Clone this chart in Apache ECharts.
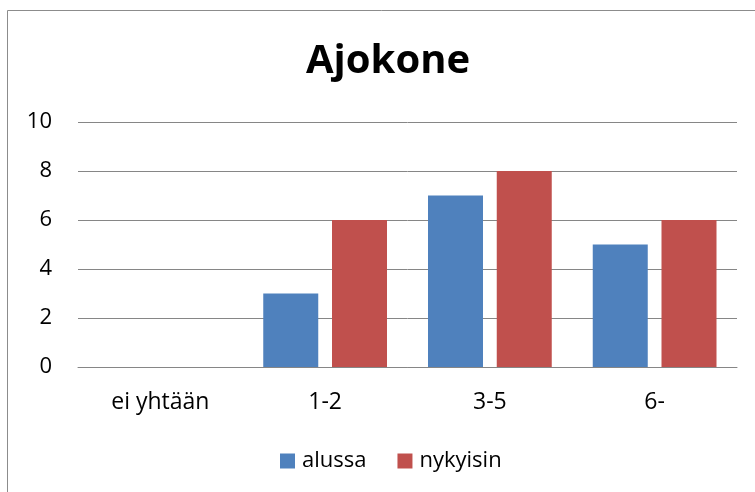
<!DOCTYPE html>
<html>
<head>
<meta charset="utf-8">
<script src="https://cdn.jsdelivr.net/npm/echarts@6/dist/echarts.min.js"></script>
<style>
html,body{margin:0;padding:0;background:#fff;}
#chart{width:755px;height:492px;}
</style>
</head>
<body>
<div id="chart"></div>
<script>
var categories = ["ei yhtään", "1-2", "3-5", "6-"];
var alussa = [0, 3, 7, 5];
var nykyisin = [0, 6, 8, 6];
var yTicks = [0, 2, 4, 6, 8, 10];

var chart = echarts.init(document.getElementById('chart'), null, {renderer: 'canvas'});
var font = '"Open Sans", "Noto Sans", sans-serif';
chart.setOption({
  animation: false,
  backgroundColor: '#ffffff',
  graphic: [{
    type: 'rect',
    shape: {x: 7.5, y: 10.5, width: 800, height: 600},
    style: {fill: 'none', stroke: '#8c8c8c', lineWidth: 1},
    silent: true
  }],
  title: {
    text: 'Ajokone',
    left: 301,
    top: 37,
    textStyle: {fontFamily: font, fontSize: 40, fontWeight: 'bold', color: '#000'}
  },
  legend: {
    top: 445,
    left: 275,
    itemWidth: 15,
    itemHeight: 15,
    itemGap: 31,
    icon: 'rect',
    textStyle: {fontFamily: font, fontSize: 22, color: '#000', padding: [0, 0, 0, 2]},
    data: ['alussa', 'nykyisin']
  },
  grid: {left: 78, right: 18, top: 122, bottom: 125, containLabel: false},
  xAxis: {
    type: 'category',
    data: categories,
    axisLine: {show: true, lineStyle: {color: '#868686', width: 1}},
    axisTick: {show: false},
    axisLabel: {fontFamily: font, fontSize: 23, color: '#000', margin: 24}
  },
  yAxis: {
    type: 'value',
    min: yTicks[0],
    max: yTicks[yTicks.length - 1],
    interval: 2,
    axisLine: {show: false},
    axisTick: {show: false},
    axisLabel: {fontFamily: font, fontSize: 22, color: '#000', margin: 26},
    splitLine: {lineStyle: {color: '#868686', width: 1}}
  },
  series: [
    {name: 'alussa', type: 'bar', data: alussa, barWidth: 55, barGap: '25%', itemStyle: {color: '#4F81BD'}},
    {name: 'nykyisin', type: 'bar', data: nykyisin, barWidth: 55, barGap: '25%', itemStyle: {color: '#C0504D'}}
  ]
});
</script>
</body>
</html>
